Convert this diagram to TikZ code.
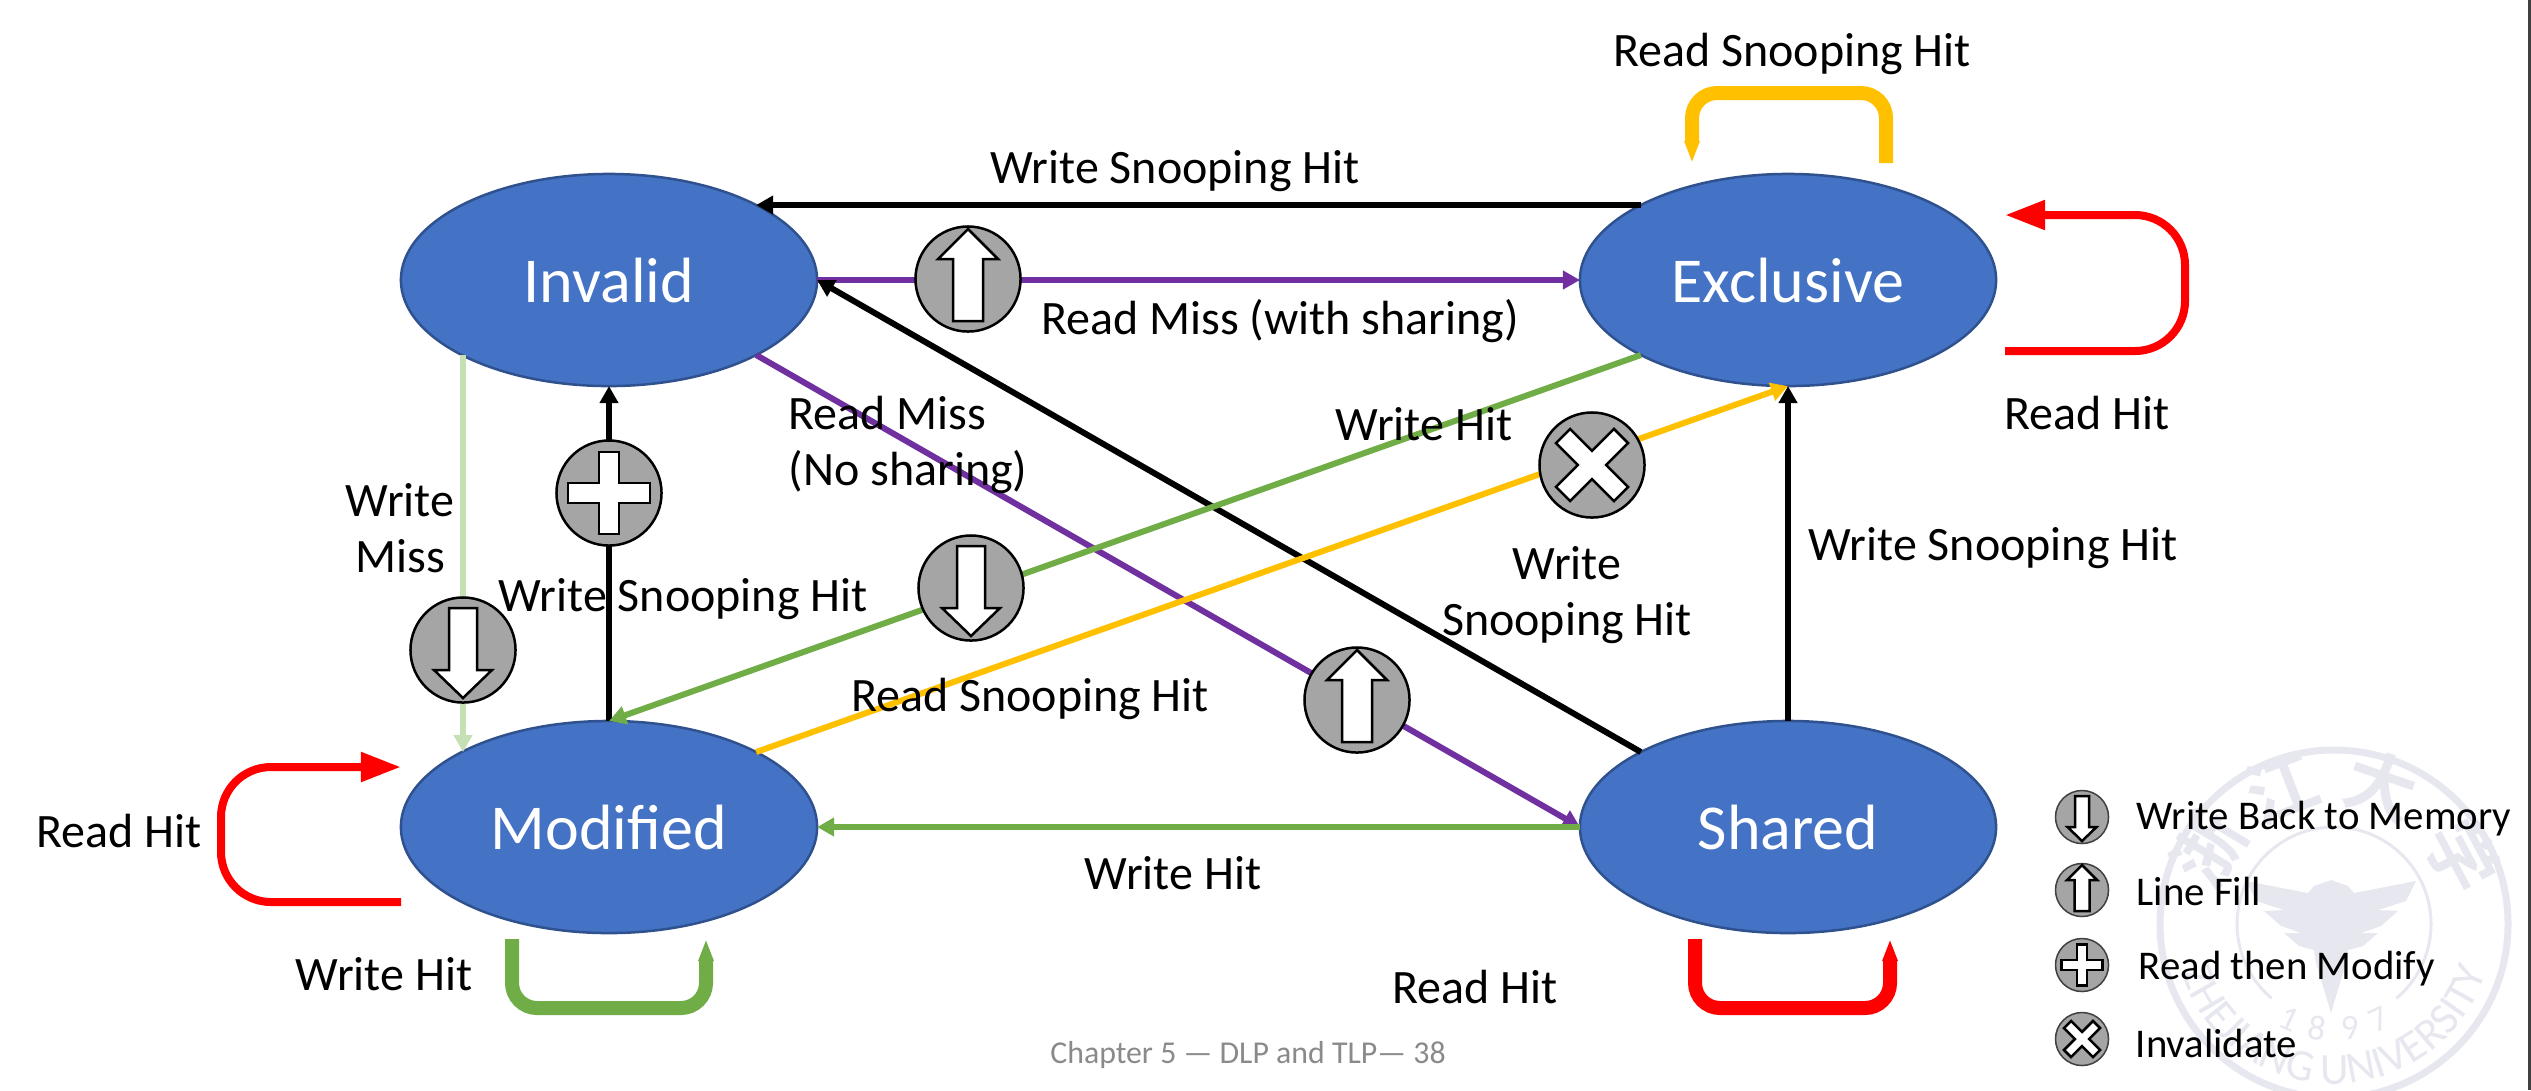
\documentclass[tikz,border=0pt]{standalone}
\usepackage{fontspec}
\setmainfont{Carlito}
\newfontfamily\cjk{Noto Sans CJK SC Bold}
\usetikzlibrary{arrows.meta,shapes.geometric,decorations.text}
\definecolor{stateblue}{HTML}{4472C4}
\definecolor{stateedge}{HTML}{2F528F}
\definecolor{hitgreen}{HTML}{70AD47}
\definecolor{palegreen}{HTML}{C5E0B4}
\definecolor{missviolet}{HTML}{7030A0}
\definecolor{snoopyellow}{HTML}{FFC000}
\definecolor{opgrey}{HTML}{A5A5A5}
\definecolor{sealgrey}{HTML}{E7E8EF}
\definecolor{footgrey}{HTML}{8A8A8A}
\tikzset{
  state/.style={shape=ellipse,draw=stateedge,fill=stateblue,line width=0.025cm,inner sep=0pt,outer sep=0pt,
    minimum width=4.16cm,minimum height=2.12cm,text=white,font=\fontsize{18.2}{22}\selectfont},
  wire/.style={line width=0.06cm,-{Triangle[length=0.17cm,width=0.18cm]}},
  selfred/.style={draw=red,line width=0.08cm,rounded corners=0.5cm,-{Triangle[length=0.4cm,width=0.28cm]}},
  selfflat/.style={line width=0.14cm,rounded corners=0.25cm,-{Triangle[length=0.22cm,width=0.14cm]}},
  opdot/.style={shape=circle,draw=black,fill=opgrey,line width=0.025cm,minimum size=1.05cm,inner sep=0pt},
  keydot/.style={shape=circle,draw=black!75,fill=opgrey,line width=0.015cm,minimum size=0.53cm,inner sep=0pt},
  lbl/.style={font=\fontsize{13.65}{15.8}\selectfont,align=center,inner sep=0pt},
  keylbl/.style={font=\fontsize{11.6}{13}\selectfont,anchor=west,inner sep=0pt},
  glyph/.style={draw=black,fill=white,line width=0.025cm},
  downicon/.pic={\draw[glyph] (0,48) -- (29,20) -- (14,20) -- (14,-42) -- (-14,-42) -- (-14,20) -- (-29,20) -- cycle;},
  upicon/.pic={\draw[glyph] (0,-50) -- (30,-20) -- (15,-20) -- (15,42) -- (-15,42) -- (-15,-20) -- (-30,-20) -- cycle;},
  plusicon/.pic={\draw[glyph] (-10,-41) -- (10,-41) -- (10,-10) -- (41,-10) -- (41,10) -- (10,10) -- (10,41) -- (-10,41) -- (-10,10) -- (-41,10) -- (-41,-10) -- (-10,-10) -- cycle;},
  crossicon/.pic={\draw[glyph,rotate=45] (-10,-41) -- (10,-41) -- (10,-10) -- (41,-10) -- (41,10) -- (10,10) -- (10,41) -- (-10,41) -- (-10,10) -- (-41,10) -- (-41,-10) -- (-10,-10) -- cycle;},
}

\begin{document}
\begin{tikzpicture}[x=0.01cm,y=-0.01cm]
\useasboundingbox (0,0) rectangle (2531,1090);

% seal behind the legend
\begin{scope}[shift={(2334,924)},y=0.01cm,sealgrey]
  \draw[line width=0.07cm] (0,0) circle (174);
  \draw[line width=0.03cm] (-50:97) arc (-50:230:97);
  \fill (-3,44) -- (14,38) -- (20,31) -- (82,43) -- (72,23) -- (44,14) -- (64,13) -- (47,-2) -- (27,-9) -- (44,-9) -- (29,-22) -- (14,-26) -- (12,-39)
    -- (-3,-89) -- (-18,-39) -- (-20,-26) -- (-35,-22) -- (-50,-9) -- (-33,-9) -- (-53,-2) -- (-70,13) -- (-50,14) -- (-78,23) -- (-88,43) -- (-26,31) -- (-20,38) -- cycle;
  \foreach \ch/\ang in {浙/149,江/111,大/71,学/28}
    \node[rotate=\ang-90,font=\cjk\fontsize{20}{20}\selectfont,text=sealgrey] (seal\ang) at (\ang:146) {\ch};
  \foreach \dg/\ang in {1/-115,8/-99,9/-81,7/-65}
    \node[rotate=\ang+90,font=\fontsize{10}{10}\selectfont,text=sealgrey] (year\dg) at (\ang:105) {\dg};
  \path[decorate,decoration={text along path,text align=center,
    text={|\fontsize{12.7}{13}\selectfont\color{sealgrey}|ZHEJIANG UNIVERSITY}}] (190:160) arc (190:350:160);
\end{scope}

\node[state] (Invalid) at (609,280) {Invalid};
\node[state] (Exclusive) at (1788,280) {Exclusive};
\node[state] (Modified) at (609,827) {Modified};
\node[state] (Shared) at (1788,827) {Shared};

\coordinate (exTopA) at (1886,163);
\coordinate (exTopB) at (1692,163);
\coordinate (exSideA) at (2005,351);
\coordinate (exSideB) at (2005,215);
\coordinate (moSideA) at (401,902);
\coordinate (moSideB) at (401,767);
\coordinate (moLowA) at (512,939);
\coordinate (moLowB) at (706,939);
\coordinate (shLowA) at (1695,939);
\coordinate (shLowB) at (1890,939);
\coordinate (missTop) at (463,355);
\coordinate (missLow) at (463,752);
\coordinate (edgeTop) at (2529.7,0);
\coordinate (edgeLow) at (2529.7,1090);

\draw[line width=0.025cm,black!75] (edgeTop) -- (edgeLow);

\draw[wire,black] (Exclusive.153) -- (Invalid.27);
\draw[wire,missviolet] (Invalid.east) -- (Exclusive.west);
\draw[wire,black] (Shared.153) -- (Invalid.east);
\draw[wire,palegreen] (missTop) -- (missLow);
\draw[wire,black] (Modified.north) -- (Invalid.south);
\draw[wire,missviolet] (Invalid.-27) -- (Shared.west);
\draw[wire,hitgreen] (Exclusive.207) -- (Modified.north);
\draw[wire,snoopyellow] (Modified.27) -- (Exclusive.south);
\draw[wire,black] (Shared.north) -- (Exclusive.south);
\draw[wire,hitgreen] (Shared.west) -- (Modified.east);

\draw[selfflat,snoopyellow] (exTopA) -- (1886,93) -- (1692,93) -- (exTopB);
\draw[selfred] (exSideA) -- (2185,351) -- (2185,215) -- (exSideB);
\draw[selfred] (moSideA) -- (221,902) -- (221,767) -- (moSideB);
\draw[selfflat,hitgreen] (moLowA) -- (512,1008) -- (706,1008) -- (moLowB);
\draw[selfflat,red] (shLowA) -- (1695,1008) -- (1890,1008) -- (shLowB);

\node[opdot] (opFill) at (968,279) {};
\pic at (opFill) {upicon};
\node[opdot] (opBack) at (463,650) {};
\pic at (opBack) {downicon};
\node[opdot] (opPlus) at (609,493) {};
\pic at (opPlus) {plusicon};
\node[opdot] (opDown) at (971,588) {};
\pic at (opDown) {downicon};
\node[opdot] (opUp) at (1357,700) {};
\pic at (opUp) {upicon};
\node[opdot] (opCross) at (1592,465) {};
\pic at (opCross) {crossicon};

\node[lbl] (l1) at (1792,54) {Read Snooping Hit};
\node[lbl] (l2) at (1175,171) {Write Snooping Hit};
\node[lbl] (l3) at (1280,321) {Read Miss (with sharing)};
\node[lbl] (l4) at (2087,413) {Read Hit};
\node[lbl,anchor=west,align=left] (l5) at (788,445) {Read Miss\\(No sharing)};
\node[lbl] (l6) at (1424,424) {Write Hit};
\node[lbl] (l7) at (400,528) {Write\\Miss};
\node[lbl] (l8) at (683,599) {Write Snooping Hit};
\node[lbl] (l9) at (1567,595) {Write\\Snooping Hit};
\node[lbl] (l10) at (1993,548) {Write Snooping Hit};
\node[lbl] (l11) at (1030,699) {Read Snooping Hit};
\node[lbl] (l12) at (1173,873) {Write Hit};
\node[lbl] (l13) at (119,831) {Read Hit};
\node[lbl] (l14) at (384,974) {Write Hit};
\node[lbl] (l15) at (1475,987) {Read Hit};

\node[keydot] (keyBack) at (2082,817) {};
\pic[scale=0.5] at (keyBack) {downicon};
\node[keydot] (keyFill) at (2082,890) {};
\pic[scale=0.5] at (keyFill) {upicon};
\node[keydot] (keyPlus) at (2082,965) {};
\pic[scale=0.5] at (keyPlus) {plusicon};
\node[keydot] (keyCross) at (2082,1039) {};
\pic[scale=0.5] at (keyCross) {crossicon};
\node[keylbl] (keyBackT) at (2136,819) {Write Back to Memory};
\node[keylbl] (keyFillT) at (2136,891) {Line Fill};
\node[keylbl] (keyPlusT) at (2138,969) {Read then Modify};
\node[keylbl] (keyCrossT) at (2135,1043) {Invalidate};

\node[font=\fontsize{9.05}{11}\selectfont,text=footgrey,inner sep=0pt] (foot) at (1248,1055) {Chapter 5 — DLP and TLP— 38};
\end{tikzpicture}
\end{document}
